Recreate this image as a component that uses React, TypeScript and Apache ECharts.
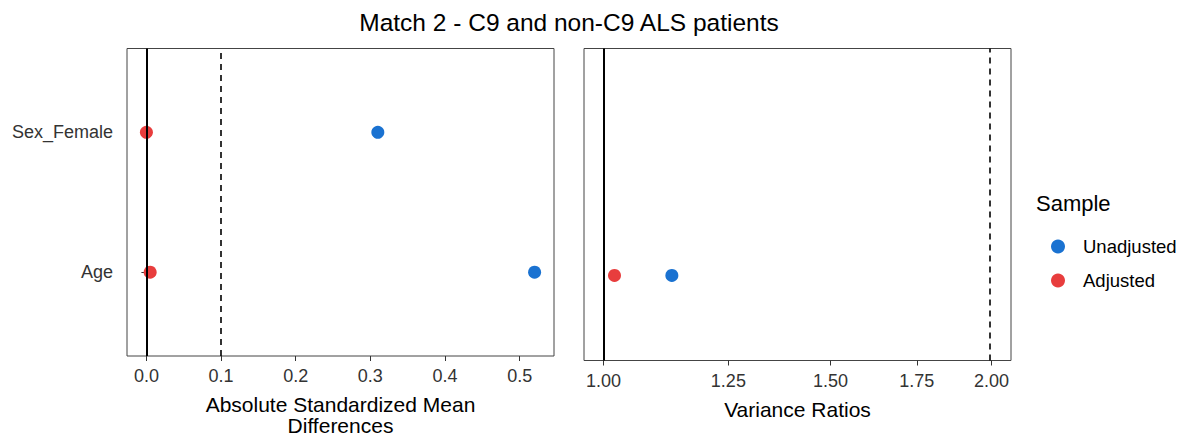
import React, { useEffect, useRef } from "react";
import * as echarts from "echarts";

const covariates = ["Age", "Sex_Female"];
const covariatePos = [1, 2];
const smdUnadjusted = [0.52, 0.31];
const smdAdjusted = [0.005, 0.0];
const vrCovariates = ["Age"];
const vrUnadjusted = [1.13];
const vrAdjusted = [1.02];
const smdTicks = [0, 0.1, 0.2, 0.3, 0.4, 0.5];
const vrTicks = [1.0, 1.25, 1.5, 1.75, 2.0];
const smdThreshold = 0.1;
const vrThreshold = 2.0;

const FONT = '"Liberation Sans", Arial, sans-serif';
const BLUE = "#1a72d1";
const RED = "#e83d3d";

export default function App() {
  const ref = useRef<HTMLDivElement>(null);
  useEffect(() => {
    if (!ref.current) return;
    const chart = echarts.init(ref.current, undefined, { renderer: "svg" });
    const smdMax = Math.max(...smdUnadjusted, ...smdAdjusted);
    const smdMin = 0;
    const smdPad = (smdMax - smdMin) * 0.05;
    const lnMax = Math.log(vrThreshold);
    const lnPad = lnMax * 0.05;

    const yAxisBase = {
      type: "value",
      min: 0.4,
      max: 2.6,
      splitLine: { show: false },
      axisLine: { show: false },
    };
    const axisLabelStyle = { color: "#333", fontSize: 18, fontFamily: FONT };
    const nameStyle = { color: "#000", fontSize: 21, fontFamily: FONT, lineHeight: 21 };

    const vline = (x: number, dashed: boolean) => ({
      silent: true,
      symbol: "none",
      label: { show: false },
      lineStyle: { color: "#000", width: dashed ? 1.6 : 2, type: dashed ? [6, 5] : "solid" },
      data: [{ xAxis: x }],
    });

    const smdY = (vals: number[]) => vals.map((v, i) => [v, covariatePos[i]]);
    const vrY = (vals: number[]) =>
      vals.map((v, i) => [Math.log(v), covariatePos[covariates.indexOf(vrCovariates[i])]]);

    const dot = (color: string) => ({ color, opacity: 1 });

    chart.setOption({
      animation: false,
      backgroundColor: "#fff",
      textStyle: { fontFamily: FONT },
      graphic: [
        {
          type: "text",
          x: 569,
          y: 22,
          style: {
            text: "Match 2 - C9 and non-C9 ALS patients",
            fontSize: 24.5,
            fontFamily: FONT,
            fill: "#000",
            textAlign: "center",
            textVerticalAlign: "middle",
          },
        },
        {
          type: "text",
          x: 1036,
          y: 203,
          style: {
            text: "Sample",
            fontSize: 22,
            fontFamily: FONT,
            fill: "#000",
            textAlign: "left",
            textVerticalAlign: "middle",
          },
        },
      ],
      legend: {
        orient: "vertical",
        left: 1046,
        top: 232,
        itemWidth: 14,
        itemHeight: 14,
        itemGap: 15,
        icon: "circle",
        data: ["Unadjusted", "Adjusted"],
        textStyle: { fontSize: 18.5, fontFamily: FONT, color: "#000", padding: [0, 0, 0, 13] },
      },
      grid: [
        { left: 127, top: 48.5, width: 427, height: 312, show: true, borderColor: "#444", borderWidth: 1, backgroundColor: "transparent" },
        { left: 584, top: 48.5, width: 427, height: 312, show: true, borderColor: "#444", borderWidth: 1, backgroundColor: "transparent" },
      ],
      xAxis: [
        {
          gridIndex: 0,
          type: "value",
          min: smdMin - smdPad,
          max: smdMax + smdPad,
          splitLine: { show: false },
          axisLine: { show: false },
          axisTick: { show: true, length: 5, customValues: smdTicks, lineStyle: { color: "#333" } },
          axisLabel: { ...axisLabelStyle, margin: 11, customValues: smdTicks, formatter: (v: number) => v.toFixed(1) },
          name: "Absolute Standardized Mean\nDifferences",
          nameLocation: "middle",
          nameGap: 38,
          nameTextStyle: nameStyle,
        },
        {
          gridIndex: 1,
          type: "value",
          min: -lnPad,
          max: lnMax + lnPad,
          splitLine: { show: false },
          axisLine: { show: false },
          axisTick: { show: true, length: 5, customValues: vrTicks.map(Math.log), lineStyle: { color: "#333" } },
          axisLabel: {
            ...axisLabelStyle,
            margin: 11,
            customValues: vrTicks.map(Math.log),
            formatter: (v: number) => Math.exp(v).toFixed(2),
          },
          name: "Variance Ratios",
          nameLocation: "middle",
          nameGap: 38,
          nameTextStyle: nameStyle,
        },
      ],
      yAxis: [
        {
          ...yAxisBase,
          gridIndex: 0,
          axisTick: { show: true, length: 5, customValues: covariatePos, lineStyle: { color: "#333" } },
          axisLabel: {
            ...axisLabelStyle,
            margin: 14,
            customValues: covariatePos,
            formatter: (v: number) => covariates[covariatePos.indexOf(Math.round(v))] ?? "",
          },
        },
        {
          ...yAxisBase,
          gridIndex: 1,
          axisTick: { show: false },
          axisLabel: { show: false },
        },
      ],
      series: [
        {
          name: "Unadjusted",
          type: "scatter",
          xAxisIndex: 0,
          yAxisIndex: 0,
          symbolSize: 13,
          itemStyle: dot(BLUE),
          data: smdY(smdUnadjusted),
          markLine: { ...vline(0, false) },
          z: 3,
        },
        {
          name: "Adjusted",
          type: "scatter",
          xAxisIndex: 0,
          yAxisIndex: 0,
          symbolSize: 13,
          itemStyle: dot(RED),
          data: smdY(smdAdjusted),
          markLine: { ...vline(smdThreshold, true) },
          z: 4,
        },
        {
          name: "Unadjusted",
          type: "scatter",
          xAxisIndex: 1,
          yAxisIndex: 1,
          symbolSize: 13,
          itemStyle: dot(BLUE),
          data: vrY(vrUnadjusted),
          markLine: { ...vline(0, false) },
          z: 3,
        },
        {
          name: "Adjusted",
          type: "scatter",
          xAxisIndex: 1,
          yAxisIndex: 1,
          symbolSize: 13,
          itemStyle: dot(RED),
          data: vrY(vrAdjusted),
          markLine: { ...vline(Math.log(vrThreshold), true) },
          z: 4,
        },
      ],
    });
    return () => chart.dispose();
  }, []);
  return (
    <div
      ref={ref}
      style={{ position: "fixed", left: 0, top: 0, width: 1187, height: 441 }}
    />
  );
}
